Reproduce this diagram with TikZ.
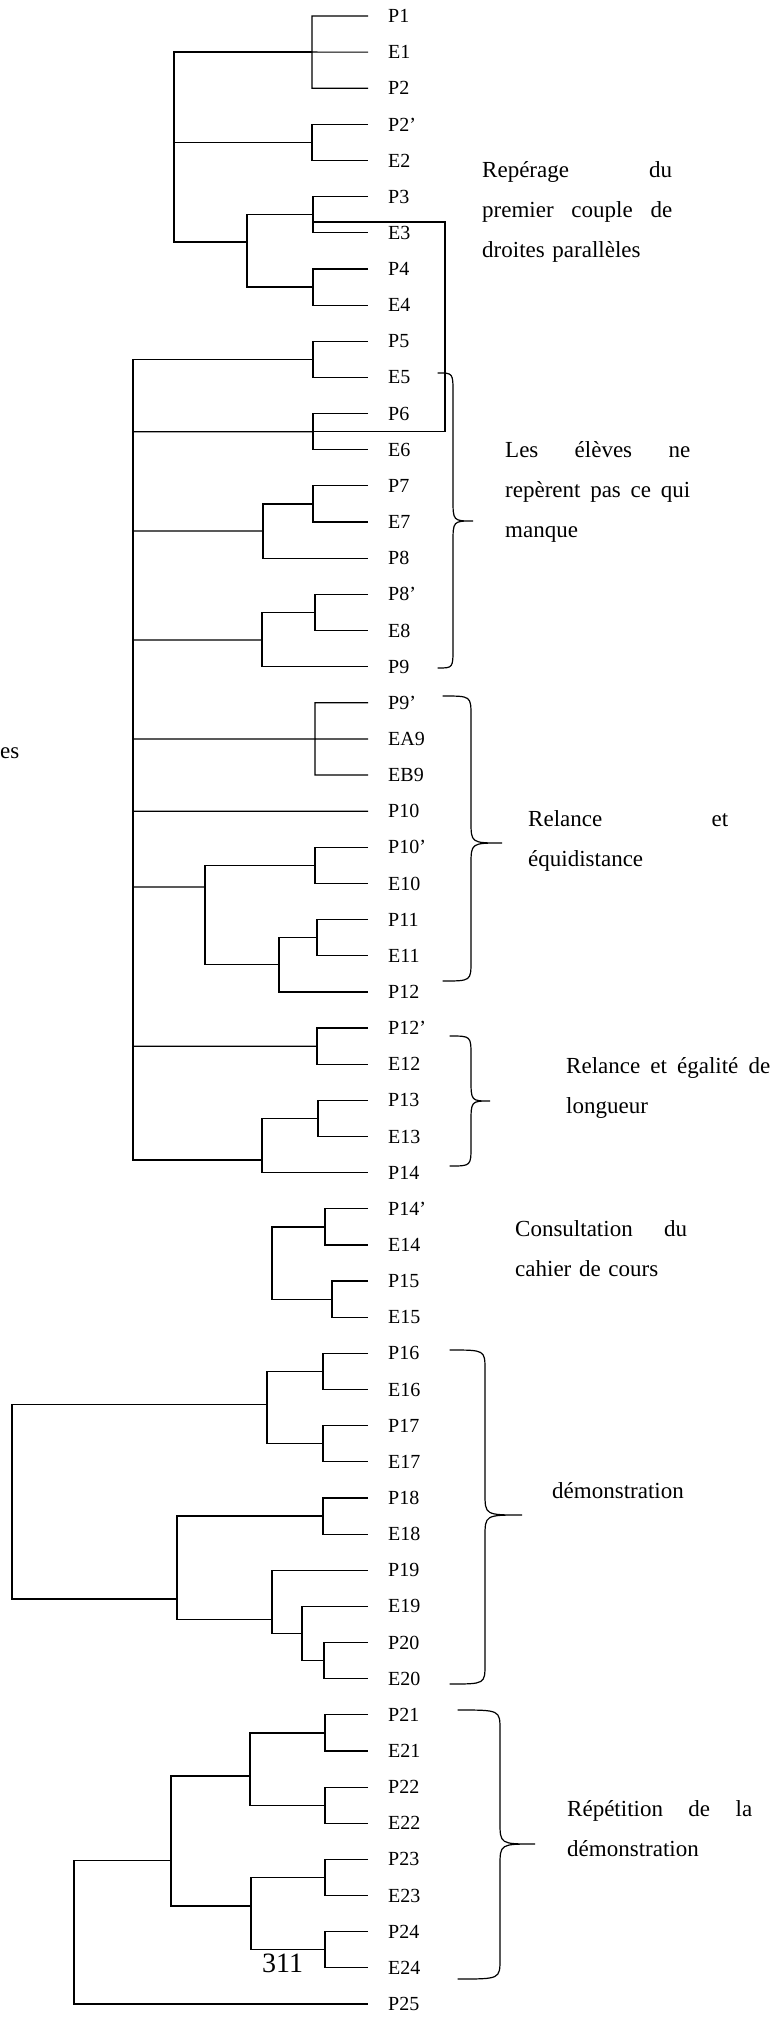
\documentclass[tikz,border=0pt]{standalone}
\usepackage{fontspec}
\setmainfont{Liberation Serif}
\usetikzlibrary{positioning}
\tikzset{
  leaf/.style={anchor=west,inner xsep=20pt,inner ysep=0pt,
               font=\fontsize{20}{20}\selectfont},
  note/.style={anchor=base west,inner sep=0pt,align=left,
               font=\fontsize{23}{40}\selectfont},
  link/.style={line width=1.2pt},
  curly/.style={line width=1.2pt,line cap=round},
}
\newcommand{\sidebrace}[6]{
  \draw[curly] (#1,#4) .. controls (#2,#4) .. (#2,{#4+20})
    -- (#2,{#5-22}) .. controls (#2,#5) .. (#3,#5)
    .. controls (#2,#5) .. (#2,{#5+22})
    -- (#2,{#6-20}) .. controls (#2,#6) .. (#1,#6);}

\begin{document}
\begin{tikzpicture}[x=1pt,y=-1pt]
  \useasboundingbox (0,0) rectangle (777,2017);
  \foreach \n/\t [count=\i from 0] in {P1/P1,E1/E1,P2/P2,P2b/P2',E2/E2,
      P3/P3,E3/E3,P4/P4,E4/E4,P5/P5,E5/E5,P6/P6,E6/E6,P7/P7,E7/E7,P8/P8,
      P8b/P8',E8/E8,P9/P9,P9b/P9',EA9/EA9,EB9/EB9,P10/P10,P10b/P10',
      E10/E10,P11/P11,E11/E11,P12/P12,P12b/P12',E12/E12,P13/P13,E13/E13,
      P14/P14,P14b/P14',E14/E14,P15/P15,E15/E15,P16/P16,E16/E16,P17/P17,
      E17/E17,P18/P18,E18/E18,P19/P19,E19/E19,P20/P20,E20/E20,P21/P21,
      E21/E21,P22/P22,E22/E22,P23/P23,E23/E23,P24/P24,E24/E24,P25/P25}
    \node[leaf] (\n) at (368,{16+36.145*\i}) {\t};

  \coordinate (a1) at (312,52.1);
  \coordinate (a2) at (312,142.5);
  \coordinate (a3a) at (313,214.8);
  \coordinate (a3b) at (313,287.1);
  \coordinate (a3) at (247,242);
  \coordinate (ar) at (174,142.5);
  \draw[link] (P1.west) -| (a1) |- (P2.west) (a1) -- (E1.west);
  \draw[link] (P2b.west) -| (a2) |- (E2.west);
  \draw[link] (P3.west) -| (a3a) |- (E3.west);
  \draw[link] (P4.west) -| (a3b) |- (E4.west);
  \draw[link] (a3a) -| (a3) |- (a3b);
  \draw[link] (a1) -| (ar) |- (a3) (a2) -- (ar);
  \draw[link] (313,222) -| (445,431.7) -- (313,431.7);

  \coordinate (b1) at (313,359.4);
  \coordinate (b2) at (313,431.7);
  \coordinate (b3a) at (313,504);
  \coordinate (b3) at (263,531);
  \coordinate (b4a) at (315,612.4);
  \coordinate (b4) at (262,640);
  \coordinate (b5) at (315,738.9);
  \coordinate (b6a) at (315,865.4);
  \coordinate (b6c) at (317,937.7);
  \coordinate (b6b) at (279,964.8);
  \coordinate (b6) at (205,887);
  \coordinate (b7) at (317,1046.2);
  \coordinate (b8a) at (318,1118.4);
  \coordinate (b8) at (262,1160);
  \coordinate (br) at (133,811.2);
  \draw[link] (P5.west) -| (b1) |- (E5.west);
  \draw[link] (P6.west) -| (b2) |- (E6.west);
  \draw[link] (P7.west) -| (b3a) |- (E7.west);
  \draw[link] (b3a) -| (b3) |- (P8.west);
  \draw[link] (P8b.west) -| (b4a) |- (E8.west);
  \draw[link] (b4a) -| (b4) |- (P9.west);
  \draw[link] (P9b.west) -| (b5) |- (EB9.west) (b5) -- (EA9.west);
  \draw[link] (P10b.west) -| (b6a) |- (E10.west);
  \draw[link] (P11.west) -| (b6c) |- (E11.west);
  \draw[link] (b6c) -| (b6b) |- (P12.west);
  \draw[link] (b6a) -| (b6) |- (b6b);
  \draw[link] (P12b.west) -| (b7) |- (E12.west);
  \draw[link] (P13.west) -| (b8a) |- (E13.west);
  \draw[link] (b8a) -| (b8) |- (P14.west);
  \draw[link] (b1) -| (br) |- (b8);
  \draw[link] (b2) -- (b2 -| br) (b3) -- (b3 -| br) (b4) -- (b4 -| br)
    (b5) -- (b5 -| br) (P10.west) -- (br) (b6) -- (b6 -| br)
    (b7) -- (b7 -| br);

  \coordinate (c1) at (325,1226.9);
  \coordinate (c2) at (332,1299.2);
  \coordinate (cr) at (272,1263);
  \draw[link] (P14b.west) -| (c1) |- (E14.west);
  \draw[link] (P15.west) -| (c2) |- (E15.west);
  \draw[link] (c1) -| (cr) |- (c2);

  \coordinate (d1) at (323,1371.5);
  \coordinate (d2) at (323,1443.8);
  \coordinate (d12) at (267,1404.8);
  \coordinate (d3) at (323,1516);
  \coordinate (dz1) at (324,1660.6);
  \coordinate (dz) at (302,1633.5);
  \coordinate (dy) at (272,1619.6);
  \coordinate (dx) at (177,1599);
  \coordinate (dr) at (12,1500);
  \draw[link] (P16.west) -| (d1) |- (E16.west);
  \draw[link] (P17.west) -| (d2) |- (E17.west);
  \draw[link] (d1) -| (d12) |- (d2);
  \draw[link] (P18.west) -| (d3) |- (E18.west);
  \draw[link] (P20.west) -| (dz1) |- (E20.west);
  \draw[link] (E19.west) -| (dz) |- (dz1);
  \draw[link] (P19.west) -| (dy) |- (dz);
  \draw[link] (d3) -| (dx) |- (dy);
  \draw[link] (d12) -| (dr) |- (dx);

  \coordinate (e1a) at (325,1732.9);
  \coordinate (e1b) at (325,1805.2);
  \coordinate (e1) at (250,1776);
  \coordinate (e2a) at (325,1877.5);
  \coordinate (e2b) at (325,1949.8);
  \coordinate (e2) at (251,1906);
  \coordinate (e12) at (171,1860.5);
  \coordinate (er) at (74,1950);
  \draw[link] (P21.west) -| (e1a) |- (E21.west);
  \draw[link] (P22.west) -| (e1b) |- (E22.west);
  \draw[link] (e1a) -| (e1) |- (e1b);
  \draw[link] (P23.west) -| (e2a) |- (E23.west);
  \draw[link] (P24.west) -| (e2b) |- (E24.west);
  \draw[link] (e2a) -| (e2) |- (e2b);
  \draw[link] (e1) -| (e12) |- (e2);
  \draw[link] (e12) -| (er) |- (P25.west);

  \sidebrace{438}{453}{473}{373}{521}{668}
  \sidebrace{443}{471}{502}{696}{843}{981}
  \sidebrace{450}{471}{490}{1036}{1101}{1166}
  \sidebrace{450}{485}{522}{1350}{1515}{1684}
  \sidebrace{458}{500}{535}{1710}{1844}{1979}

  \node[note,text width=190pt] (reperage) at (482,178)
    {Repérage\hfill du\\premier\hfill couple\hfill de\\droites parallèles};
  \node[note,text width=185pt] (eleves) at (505,457)
    {Les\hfill élèves\hfill ne\\repèrent\hfill pas\hfill ce\hfill qui\\manque};
  \node[note,text width=200pt] (relance) at (528,826)
    {Relance\hfill et\\équidistance};
  \node[note,text width=204pt] (egalite) at (566,1073)
    {Relance\hfill et\hfill égalité\hfill de\\longueur};
  \node[note,text width=172pt] (cahier) at (515,1236)
    {Consultation\hfill du\\cahier de cours};
  \node[note] (demo) at (552,1498) {démonstration};
  \node[note,text width=185pt] (repet) at (567,1816)
    {Répétition\hfill de\hfill la\\démonstration};
  \node[anchor=base west,inner sep=0pt,font=\fontsize{23}{23}\selectfont]
    (cut) at (0,758) {es};
  \node[anchor=base west,inner sep=0pt,font=\fontsize{28}{28}\selectfont]
    (page) at (262,1972) {311};
\end{tikzpicture}
\end{document}
